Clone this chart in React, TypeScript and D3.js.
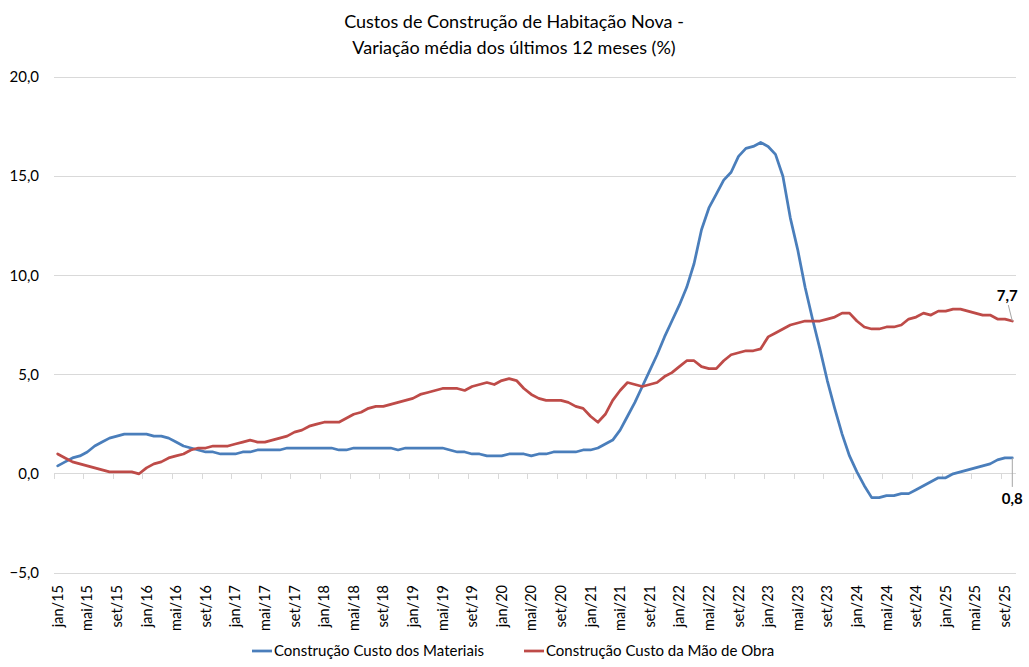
import React, { useRef, useEffect } from 'react';
import * as d3 from 'd3';

const monthNames = ['jan', 'fev', 'mar', 'abr', 'mai', 'jun', 'jul', 'ago', 'set', 'out', 'nov', 'dez'];
const years = ['15', '16', '17', '18', '19', '20', '21', '22', '23', '24', '25'];
const lastMonthCount = 10; // 2025 ends in out/25

// Construção Custo dos Materiais
const materiais = [
    0.4, 0.6, 0.8, 0.9, 1.1, 1.4, 1.6, 1.8, 1.9, 2.0, 2.0, 2.0,
    2.0, 1.9, 1.9, 1.8, 1.6, 1.4, 1.3, 1.2, 1.1, 1.1, 1.0, 1.0,
    1.0, 1.1, 1.1, 1.2, 1.2, 1.2, 1.2, 1.3, 1.3, 1.3, 1.3, 1.3,
    1.3, 1.3, 1.2, 1.2, 1.3, 1.3, 1.3, 1.3, 1.3, 1.3, 1.2, 1.3,
    1.3, 1.3, 1.3, 1.3, 1.3, 1.2, 1.1, 1.1, 1.0, 1.0, 0.9, 0.9,
    0.9, 1.0, 1.0, 1.0, 0.9, 1.0, 1.0, 1.1, 1.1, 1.1, 1.1, 1.2,
    1.2, 1.3, 1.5, 1.7, 2.2, 2.9, 3.6, 4.4, 5.2, 6.0, 6.9, 7.7,
    8.5, 9.4, 10.6, 12.3, 13.4, 14.1, 14.8, 15.2, 16.0, 16.4, 16.5, 16.7,
    16.5, 16.1, 15.0, 12.9, 11.3, 9.4, 7.8, 6.3, 4.7, 3.3, 2.0, 0.9,
    0.1, -0.6, -1.2, -1.2, -1.1, -1.1, -1.0, -1.0, -0.8, -0.6, -0.4, -0.2,
    -0.2, 0.0, 0.1, 0.2, 0.3, 0.4, 0.5, 0.7, 0.8, 0.8
];

// Construção Custo da Mão de Obra
const maoDeObra = [
    1.0, 0.8, 0.6, 0.5, 0.4, 0.3, 0.2, 0.1, 0.1, 0.1, 0.1, 0.0,
    0.3, 0.5, 0.6, 0.8, 0.9, 1.0, 1.2, 1.3, 1.3, 1.4, 1.4, 1.4,
    1.5, 1.6, 1.7, 1.6, 1.6, 1.7, 1.8, 1.9, 2.1, 2.2, 2.4, 2.5,
    2.6, 2.6, 2.6, 2.8, 3.0, 3.1, 3.3, 3.4, 3.4, 3.5, 3.6, 3.7,
    3.8, 4.0, 4.1, 4.2, 4.3, 4.3, 4.3, 4.2, 4.4, 4.5, 4.6, 4.5,
    4.7, 4.8, 4.7, 4.3, 4.0, 3.8, 3.7, 3.7, 3.7, 3.6, 3.4, 3.3,
    2.9, 2.6, 3.0, 3.7, 4.2, 4.6, 4.5, 4.4, 4.5, 4.6, 4.9, 5.1,
    5.4, 5.7, 5.7, 5.4, 5.3, 5.3, 5.7, 6.0, 6.1, 6.2, 6.2, 6.3,
    6.9, 7.1, 7.3, 7.5, 7.6, 7.7, 7.7, 7.7, 7.8, 7.9, 8.1, 8.1,
    7.7, 7.4, 7.3, 7.3, 7.4, 7.4, 7.5, 7.8, 7.9, 8.1, 8.0, 8.2,
    8.2, 8.3, 8.3, 8.2, 8.1, 8.0, 8.0, 7.8, 7.8, 7.7
];

const yTicks = [-5, 0, 5, 10, 15, 20];
const titleLines = ['Custos de Construção de Habitação Nova -', 'Variação média dos últimos 12 meses (%)'];
const seriesNames = ['Construção Custo dos Materiais', 'Construção Custo da Mão de Obra'];
const seriesColors = ['#4A7EBB', '#BE4B48'];

const categories: string[] = [];
years.forEach((y, yi) => {
    const n = yi === years.length - 1 ? lastMonthCount : 12;
    for (let m = 0; m < n; m++) categories.push(`${monthNames[m]}/${y}`);
});

const FONT = 'Lato, "Open Sans", sans-serif';

const App: React.FC = () => {
    const svgRef = useRef<SVGSVGElement | null>(null);

    useEffect(() => {
        if (!svgRef.current) return;
        const svg = d3.select(svgRef.current);
        svg.selectAll('*').remove();

        const W = 1029, H = 667;
        const left = 54, right = 1016, top = 77, bottom = 573;

        svg.append('rect').attr('width', W).attr('height', H).attr('fill', '#fff');

        const x = d3.scaleBand<string>().domain(categories).range([left, right]).padding(0);
        const y = d3.scaleLinear().domain([-5, 20]).range([bottom, top]);
        const cx = (d: string) => x(d)! + x.bandwidth() / 2;

        // gridlines
        svg.append('g').selectAll('line').data(yTicks).enter().append('line')
            .attr('x1', left).attr('x2', right)
            .attr('y1', d => y(d)).attr('y2', d => y(d))
            .attr('stroke', '#d9d9d9').attr('stroke-width', 1)
            .attr('shape-rendering', 'crispEdges');

        // y labels
        svg.append('g').selectAll('text').data(yTicks).enter().append('text')
            .attr('x', 39).attr('y', d => y(d)).attr('dy', '0.35em')
            .attr('text-anchor', 'end').attr('font-family', FONT).attr('font-size', 15)
            .attr('fill', '#000')
            .text(d => d3.format('.1f')(d).replace('.', ','));

        // x tick marks at category boundaries every 4 months
        const tickIdx = d3.range(0, categories.length, 4);
        svg.append('g').selectAll('line').data(tickIdx).enter().append('line')
            .attr('x1', i => x(categories[i])!).attr('x2', i => x(categories[i])!)
            .attr('y1', y(0)).attr('y2', y(0) + 5)
            .attr('stroke', '#d9d9d9').attr('shape-rendering', 'crispEdges');

        // x labels
        svg.append('g').selectAll('text').data(tickIdx).enter().append('text')
            .attr('transform', i => `translate(${cx(categories[i]) + 5},585)rotate(-90)`)
            .attr('text-anchor', 'end').attr('font-family', FONT).attr('font-size', 14.5)
            .attr('fill', '#000')
            .text(i => categories[i]);

        // lines
        const seriesData = [materiais, maoDeObra];
        const line = d3.line<number>()
            .x((_, i) => cx(categories[i]))
            .y(d => y(d));
        seriesData.forEach((s, si) => {
            svg.append('path').datum(s)
                .attr('fill', 'none').attr('stroke', seriesColors[si])
                .attr('stroke-width', 2.75).attr('stroke-linejoin', 'round')
                .attr('stroke-linecap', 'round')
                .attr('d', line);
        });

        // end data labels
        const lastCat = categories[categories.length - 1];
        const lastX = cx(lastCat);
        const redLast = maoDeObra[maoDeObra.length - 1];
        const blueLast = materiais[materiais.length - 1];
        const fmt = (v: number) => d3.format('.1f')(v).replace('.', ',');

        svg.append('line')
            .attr('x1', lastX - 4).attr('y1', y(redLast) - 16)
            .attr('x2', lastX).attr('y2', y(redLast))
            .attr('stroke', '#a6a6a6').attr('stroke-width', 1);
        svg.append('text')
            .attr('x', lastX - 5).attr('y', y(redLast) - 20)
            .attr('text-anchor', 'middle').attr('font-family', FONT)
            .attr('font-size', 15).attr('font-weight', 'bold')
            .text(fmt(redLast));

        svg.append('line')
            .attr('x1', lastX).attr('y1', y(blueLast))
            .attr('x2', lastX).attr('y2', y(blueLast) + 29)
            .attr('stroke', '#a6a6a6').attr('stroke-width', 1);
        svg.append('text')
            .attr('x', lastX).attr('y', y(blueLast) + 46)
            .attr('text-anchor', 'middle').attr('font-family', FONT)
            .attr('font-size', 15).attr('font-weight', 'bold')
            .text(fmt(blueLast));

        // title
        svg.append('g').selectAll('text').data(titleLines).enter().append('text')
            .attr('x', 514).attr('y', (_, i) => 28 + i * 26)
            .attr('text-anchor', 'middle').attr('font-family', FONT).attr('font-size', 18)
            .attr('fill', '#000')
            .text(d => d);

        // legend
        const legendX = [252, 524];
        seriesNames.forEach((name, i) => {
            svg.append('line')
                .attr('x1', legendX[i]).attr('x2', legendX[i] + 20)
                .attr('y1', 651).attr('y2', 651)
                .attr('stroke', seriesColors[i]).attr('stroke-width', 2.75);
            svg.append('text')
                .attr('x', legendX[i] + 22).attr('y', 651).attr('dy', '0.35em')
                .attr('font-family', FONT).attr('font-size', 15).attr('fill', '#000')
                .text(name);
        });
    }, []);

    return (
        <svg ref={svgRef} width={1029} height={667}
            style={{ position: 'absolute', left: 0, top: 0 }} />
    );
};

export default App;
